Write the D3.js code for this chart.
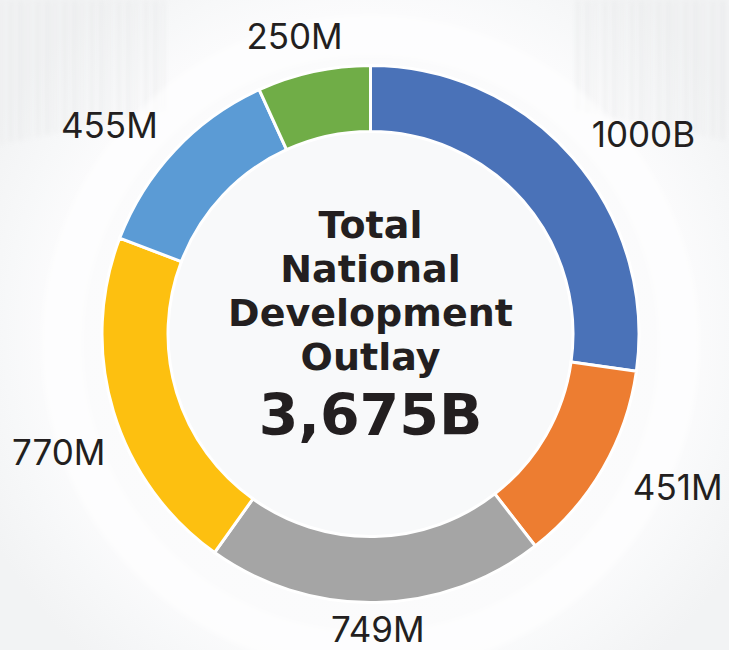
<!DOCTYPE html>
<html>
<head>
<meta charset="utf-8">
<script src="https://cdn.jsdelivr.net/npm/d3@7/dist/d3.min.js"></script>
<style>
  html, body { margin: 0; padding: 0; background: #f5f6f7; }
  svg { display: block; }
</style>
</head>
<body>
<svg id="chart" width="729" height="650"></svg>
<script>
// Spending by programme (same unit basis as the total)
const values = [1000, 451, 749, 770, 455, 250];
const labels = ["1000B", "451M", "749M", "770M", "455M", "250M"];
const colors = ["#4A72B8", "#ED7D31", "#A5A5A5", "#FDC010", "#5B9BD5", "#70AD47"];
const titleLines = ["Total", "National", "Development", "Outlay"];
const totalLabel = "3,675B";

const W = 729, H = 650;
const cx = 370.5, cy = 334;
const outerR = 268.5, innerR = 202.5;
const labelRx = 310, labelRy = 292;

const svg = d3.select("#chart");
const defs = svg.append("defs");

// soft backdrop: pale field, hazy streaks at the top, bright halo behind the ring
const halo = defs.append("radialGradient").attr("id", "halo")
  .attr("cx", cx).attr("cy", cy).attr("r", 430).attr("gradientUnits", "userSpaceOnUse");
halo.append("stop").attr("offset", "0%").attr("stop-color", "#fafbfb");
halo.append("stop").attr("offset", "75%").attr("stop-color", "#fbfbfc");
halo.append("stop").attr("offset", "85%").attr("stop-color", "#f7f8f9");
halo.append("stop").attr("offset", "100%").attr("stop-color", "#f2f3f4");

const blur = defs.append("filter").attr("id", "soft").attr("x", "-20%").attr("y", "-20%")
  .attr("width", "140%").attr("height", "140%");
blur.append("feGaussianBlur").attr("stdDeviation", 2.5);

svg.append("rect").attr("width", W).attr("height", H).attr("fill", "url(#halo)");

const streaks = svg.append("g").attr("filter", "url(#soft)").attr("opacity", 0.45);
const streakXs = d3.range(0, W, 9);
streaks.selectAll("rect").data(streakXs).join("rect")
  .attr("x", d => d)
  .attr("y", 0)
  .attr("width", (d, i) => 3 + (i % 3))
  .attr("height", d => {
    const dist = Math.abs(d - cx);
    return dist > 200 ? 150 - (400 - dist) * 0.2 : 0;
  })
  .attr("fill", "#e3e4e5");

// white band hugging the top of the ring
svg.append("circle")
  .attr("cx", cx).attr("cy", cy + 10).attr("r", outerR + 40)
  .attr("fill", "none").attr("stroke", "#ffffff").attr("stroke-opacity", 0.6)
  .attr("stroke-width", 40).attr("filter", "url(#soft)");

// inner disc
svg.append("circle").attr("cx", cx).attr("cy", cy).attr("r", innerR)
  .attr("fill", "#f8f9fa");

const pie = d3.pie().sort(null).value(d => d);
const arcs = pie(values);
const arc = d3.arc().innerRadius(innerR).outerRadius(outerR);

const g = svg.append("g").attr("transform", `translate(${cx},${cy})`);

g.selectAll("path.slice").data(arcs).join("path")
  .attr("class", "slice")
  .attr("d", arc)
  .attr("fill", (d, i) => colors[i])
  .attr("stroke", "#ffffff")
  .attr("stroke-width", 3)
  .attr("stroke-linejoin", "miter");

// value labels around the ring
const labelFont = "'Inter', 'Noto Sans', sans-serif";
const lbl = g.selectAll("text.val").data(arcs).join("text")
  .attr("class", "val")
  .attr("text-anchor", "middle")
  .attr("font-family", labelFont)
  .attr("font-size", 35)
  .attr("font-weight", 400)
  .attr("fill", "#231f20")
  .text((d, i) => labels[i]);

lbl.each(function(d) {
  const t = d3.select(this);
  const w = this.getComputedTextLength();
  const capH = 26;
  const a = (d.startAngle + d.endAngle) / 2;
  const s = Math.sin(a), c = Math.cos(a);
  let x = labelRx * s + s * w / 2;
  let y = -labelRy * c - c * capH / 2;
  // keep labels inside the frame; a label pushed in sideways slides away from the equator
  const minX = -cx + 12 + w / 2, maxX = W - cx - 4 - w / 2;
  const cx2 = Math.max(minX, Math.min(maxX, x));
  y += Math.abs(cx2 - x) * Math.sign(y);
  x = cx2;
  t.attr("x", x).attr("y", y + capH / 2);
  // lift a label whose box would run past the bottom edge
  const bb = this.getBBox();
  const over = (bb.y + bb.height) - (H - cy);
  if (over > 0) t.attr("y", y + capH / 2 - over);
});

// centre caption
const title = g.append("g");
const lineGap = 44;
const firstBase = -96;
const titleFont = "'DejaVu Sans', 'Noto Sans', sans-serif";
title.selectAll("text.title").data(titleLines).join("text")
  .attr("class", "title")
  .attr("text-anchor", "middle")
  .attr("font-family", titleFont)
  .attr("font-weight", 700)
  .attr("font-size", 38)
  .attr("fill", "#231f20")
  .attr("y", (d, i) => firstBase + i * lineGap)
  .text(d => d);

title.append("text")
  .attr("text-anchor", "middle")
  .attr("font-family", titleFont)
  .attr("font-weight", 700)
  .attr("font-size", 57)
  .attr("fill", "#231f20")
  .attr("y", 101)
  .text(totalLabel);
</script>
</body>
</html>
